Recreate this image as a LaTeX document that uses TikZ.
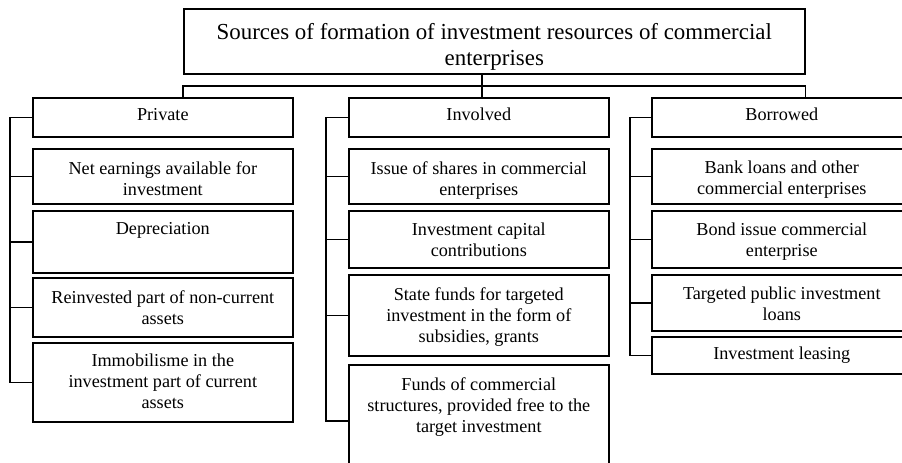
\documentclass[tikz,border=0pt]{standalone}
\usepackage{fontspec}
\setmainfont{Liberation Serif}
\begin{document}
\begin{tikzpicture}[x=1pt,y=-1pt,
  box/.style={draw, line width=1.6pt, rectangle, anchor=north west,
    minimum width=260pt, inner sep=0pt},
  lbl/.style={anchor=north, align=center, inner sep=0pt,
    font=\fontsize{18.2}{21}\selectfont},
  wire/.style={line width=1.6pt}]
\useasboundingbox (0,0) rectangle (902,463);

% title box
\node[box, minimum width=621pt, minimum height=65pt] (title) at (183,8) {};
\node[anchor=north, align=center, inner sep=0pt,
  font=\fontsize{22.9}{26}\selectfont] (titletext) at ([yshift=-15pt]title.north)
  {Sources of formation of investment resources of commercial\\enterprises};

% Private column
\node[box, minimum height=39pt] (p0) at (32,97) {};
\node[box, minimum height=55pt] (p1) at (32,148) {};
\node[box, minimum height=62pt] (p2) at (32,210) {};
\node[box, minimum height=59pt] (p3) at (32,277) {};
\node[box, minimum height=79pt] (p4) at (32,342) {};
\node[lbl] (p0t) at ([yshift=-11pt]p0.north) {Private};
\node[lbl] (p1t) at ([yshift=-13pt]p1.north) {Net earnings available for\\investment};
\node[lbl] (p2t) at ([yshift=-12pt]p2.north) {Depreciation};
\node[lbl] (p3t) at ([yshift=-13pt]p3.north) {Reinvested part of non-current\\assets};
\node[lbl] (p4t) at ([yshift=-12pt]p4.north) {Immobilisme in the\\investment part of current\\assets};

% Involved column
\node[box, minimum height=39pt] (i0) at (348,97) {};
\node[box, minimum height=55pt] (i1) at (348,148) {};
\node[box, minimum height=57pt] (i2) at (348,210) {};
\node[box, minimum height=81pt] (i3) at (348,274) {};
\node[box, minimum height=112pt] (i4) at (348,364) {};
\node[lbl] (i0t) at ([yshift=-11pt]i0.north) {Involved};
\node[lbl] (i1t) at ([yshift=-13pt]i1.north) {Issue of shares in commercial\\enterprises};
\node[lbl] (i2t) at ([yshift=-13pt]i2.north) {Investment capital\\contributions};
\node[lbl] (i3t) at ([yshift=-13pt]i3.north) {State funds for targeted\\investment in the form of\\subsidies, grants};
\node[lbl] (i4t) at ([yshift=-13pt]i4.north) {Funds of commercial\\structures, provided free to the\\target investment};

% Borrowed column
\node[box, minimum height=39pt] (b0) at (651,97) {};
\node[box, minimum height=55pt] (b1) at (651,148) {};
\node[box, minimum height=57pt] (b2) at (651,210) {};
\node[box, minimum height=56pt] (b3) at (651,274) {};
\node[box, minimum height=37pt] (b4) at (651,336) {};
\node[lbl] (b0t) at ([yshift=-11pt]b0.north) {Borrowed};
\node[lbl] (b1t) at ([yshift=-13pt]b1.north) {Bank loans and other\\commercial enterprises};
\node[lbl] (b2t) at ([yshift=-13pt]b2.north) {Bond issue commercial\\enterprise};
\node[lbl] (b3t) at ([yshift=-13pt]b3.north) {Targeted public investment\\loans};
\node[lbl] (b4t) at ([yshift=-11pt]b4.north) {Investment leasing};

% distribution bus under the title
\coordinate (bus) at (0,86);
\coordinate (drop) at (482,0);
\draw[wire] (drop |- i0.north) -- (drop |- title.south);
\draw[wire] (title.west |- p0.north) -- (title.west |- bus)
  -- (title.east |- bus) -- (title.east |- b0.north);

% side brackets of the columns
\coordinate (pl) at (10,0);
\coordinate (il) at (326,0);
\coordinate (bl) at (630,0);
\draw[wire] (p0.west) -| (pl |- p4.west) -- (p4.west);
\foreach \n in {p1,p2,p3} \draw[wire] (pl |- \n.west) -- (\n.west);
\draw[wire] (i0.west) -| (il |- i4.west) -- (i4.west);
\foreach \n in {i1,i2,i3} \draw[wire] (il |- \n.west) -- (\n.west);
\draw[wire] (b0.west) -| (bl |- b4.west) -- (b4.west);
\foreach \n in {b1,b2,b3} \draw[wire] (bl |- \n.west) -- (\n.west);
\end{tikzpicture}
\end{document}
